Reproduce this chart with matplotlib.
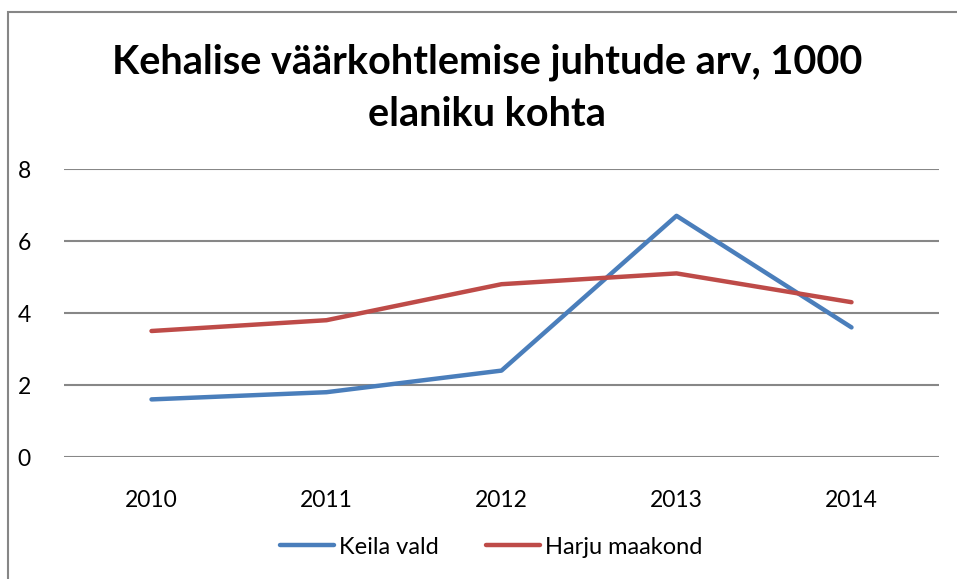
import matplotlib.pyplot as plt
from matplotlib.patches import Rectangle

years = ['2010', '2011', '2012', '2013', '2014']
keila = [1.6, 1.8, 2.4, 6.7, 3.6]
harju = [3.5, 3.8, 4.8, 5.1, 4.3]

plt.rcParams['font.family'] = ['Lato', 'DejaVu Sans']

W, H = 957, 579
fig = plt.figure(figsize=(W / 100, H / 100), dpi=100)

# outer chart frame (only left/top visible in the reference)
fig.patches.append(Rectangle((8 / W, -0.1), 1.2, 1 - 12 / H + 0.1,
                             transform=fig.transFigure, fill=False,
                             edgecolor='#868686', linewidth=1.5))

ax = fig.add_axes([64 / W, 1 - 457 / H, (939 - 64) / W, (457 - 169) / H])
x = range(len(years))
ax.plot(x, keila, color='#4a7ebb', linewidth=3.2, solid_capstyle='round',
        solid_joinstyle='round', label='Keila vald', zorder=3)
ax.plot(x, harju, color='#be4b48', linewidth=3.2, solid_capstyle='round',
        solid_joinstyle='round', label='Harju maakond', zorder=3)

ax.set_xlim(-0.5, 4.5)
ax.set_ylim(0, 8)
ax.set_yticks([0, 2, 4, 6, 8])
ax.set_xticks(list(x))
ax.set_xticklabels(years)
ax.grid(axis='y', color='#878787', linewidth=1.5)
ax.set_axisbelow(True)
for s in ax.spines.values():
    s.set_visible(False)
ax.tick_params(length=0, labelsize=16.5, colors='black')
ax.tick_params(axis='y', pad=24)
ax.tick_params(axis='x', pad=24)

fig.text(487 / W, 1 - 88 / H, 'Kehalise väärkohtlemise juhtude arv, 1000\nelaniku kohta',
         ha='center', va='center', fontsize=28.5, fontweight='bold',
         linespacing=1.5)

fig.legend(loc='center', bbox_to_anchor=(491 / W, 1 - 547 / H), ncol=2,
           frameon=False, fontsize=17, handlelength=2.3, handletextpad=0.2,
           columnspacing=2.0)

fig.savefig('out.png', dpi=100)
